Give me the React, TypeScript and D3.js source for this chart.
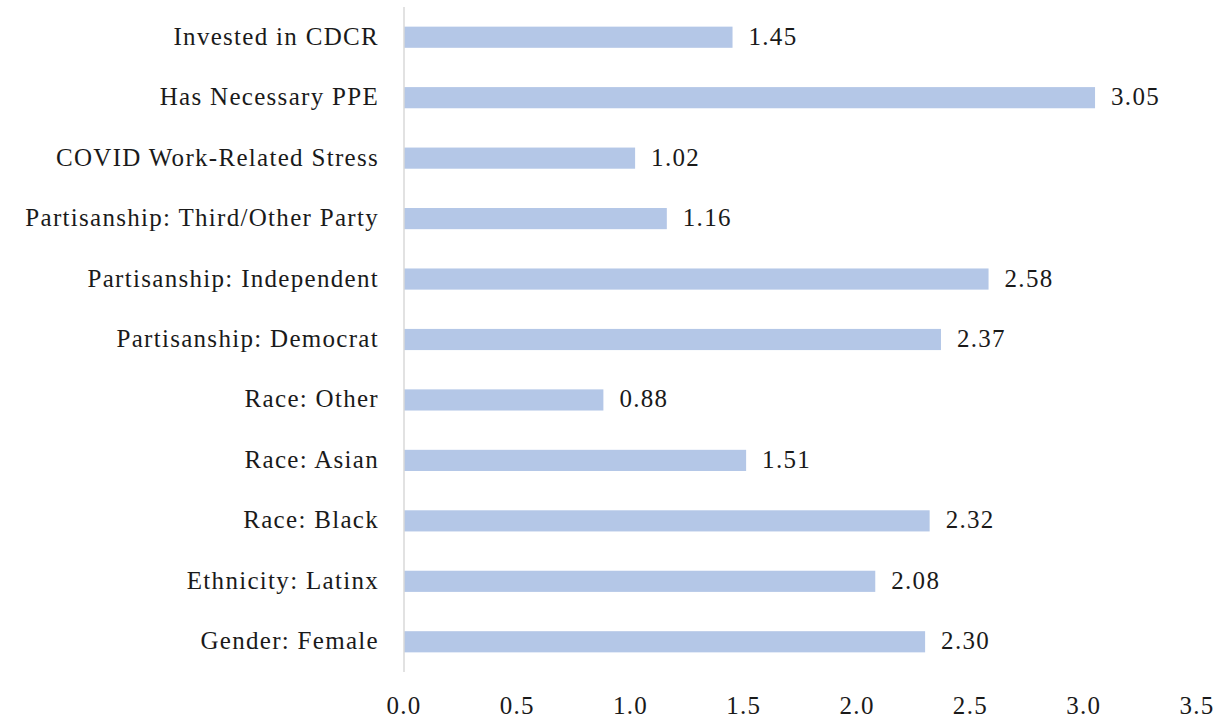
import React, { useEffect, useRef } from "react";
import * as d3 from "d3";

const categories = [
  "Invested in CDCR",
  "Has Necessary PPE",
  "COVID Work-Related Stress",
  "Partisanship: Third/Other Party",
  "Partisanship: Independent",
  "Partisanship: Democrat",
  "Race: Other",
  "Race: Asian",
  "Race: Black",
  "Ethnicity: Latinx",
  "Gender: Female",
];
const values = [1.45, 3.05, 1.02, 1.16, 2.58, 2.37, 0.88, 1.51, 2.32, 2.08, 2.3];
const xTicks = [0, 0.5, 1, 1.5, 2, 2.5, 3, 3.5];

export default function App() {
  const svgRef = useRef<SVGSVGElement>(null);

  useEffect(() => {
    const svg = d3.select(svgRef.current);
    const width = 1222;
    const height = 717;
    const font = "'Liberation Serif', 'Times New Roman', serif";
    const fontSize = "25px";
    const spacing = 1.3; // Garamond in the original is wider than Times
    svg.attr("width", width).attr("height", height);
    svg.selectAll("*").remove();

    const data = categories.map((c, i) => ({ name: c, value: values[i] }));

    const x = d3.scaleLinear().domain([0, 3.5]).range([404, 1197]);
    const y = d3
      .scaleBand()
      .domain(categories)
      .range([7, 672])
      .paddingInner(0.65)
      .paddingOuter(0.325);

    // bars
    svg
      .append("g")
      .selectAll("rect")
      .data(data)
      .join("rect")
      .attr("x", x(0))
      .attr("y", (d) => y(d.name)!)
      .attr("width", (d) => x(d.value) - x(0))
      .attr("height", y.bandwidth())
      .attr("fill", "#b4c7e7");

    // vertical axis line
    svg
      .append("line")
      .attr("x1", x(0))
      .attr("x2", x(0))
      .attr("y1", 7)
      .attr("y2", 672)
      .attr("stroke", "#d9d9d9")
      .attr("stroke-width", 1.5);

    const styleText = (sel: any) =>
      sel
        .style("font-family", font)
        .style("font-size", fontSize)
        .style("letter-spacing", `${spacing}px`)
        .attr("fill", "#1a1a1a");

    // category labels
    svg
      .append("g")
      .selectAll("text")
      .data(data)
      .join("text")
      .attr("x", x(0) - 25)
      .attr("y", (d) => y(d.name)! + y.bandwidth() / 2)
      .attr("dy", "0.3em")
      .attr("text-anchor", "end")
      .call(styleText)
      .text((d) => d.name);

    // value labels
    svg
      .append("g")
      .selectAll("text")
      .data(data)
      .join("text")
      .attr("x", (d) => x(d.value) + 16)
      .attr("y", (d) => y(d.name)! + y.bandwidth() / 2)
      .attr("dy", "0.3em")
      .call(styleText)
      .text((d) => d.value.toFixed(2));

    // x axis tick labels
    svg
      .append("g")
      .selectAll("text")
      .data(xTicks)
      .join("text")
      .attr("x", (d) => x(d))
      .attr("y", 706)
      .attr("dy", "0.3em")
      .attr("text-anchor", "middle")
      .call(styleText)
      .text((d) => d.toFixed(1));
  }, []);

  return (
    <div style={{ position: "absolute", left: 0, top: 0 }}>
      <svg ref={svgRef}></svg>
    </div>
  );
}
